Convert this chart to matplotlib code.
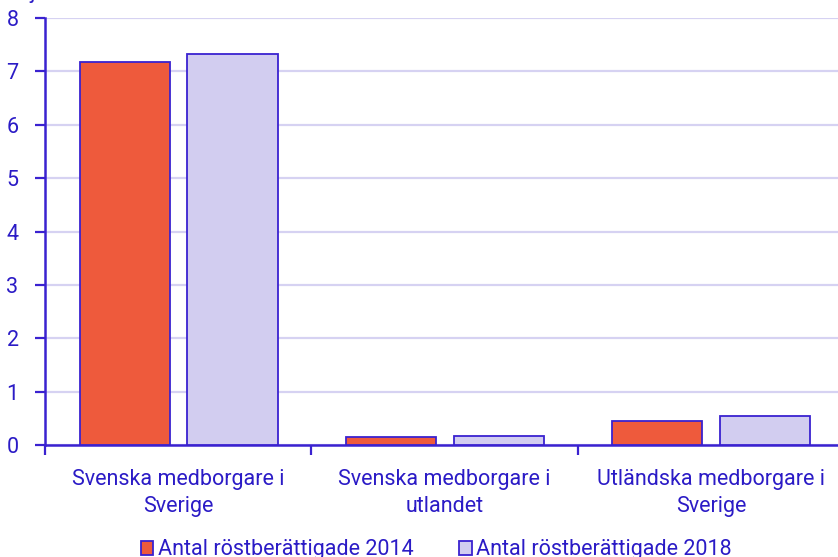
import numpy as np
import matplotlib.pyplot as plt
from matplotlib.patches import Patch

# antal röstberättigade, miljoner
categories = ["Svenska medborgare i\nSverige", "Svenska medborgare i\nutlandet", "Utländska medborgare i\nSverige"]
series_names = ["Antal röstberättigade 2014", "Antal röstberättigade 2018"]
values_2014 = [7.17, 0.15, 0.45]
values_2018 = [7.32, 0.17, 0.54]
y_ticks = [0, 1, 2, 3, 4, 5, 6, 7, 8]

TEXT = "#2b1bc6"
EDGE = "#3a22d0"
RED = "#ee5a3c"
LAV = "#d2cdf0"
GRID = "#d6d2f2"
FS = 15.5

plt.rcParams["font.family"] = ["Roboto", "DejaVu Sans"]

fig = plt.figure(figsize=(8.38, 5.57), dpi=100)
ax = fig.add_axes([45 / 838, 112 / 557, 799 / 838, 427 / 557])

x = np.arange(len(categories))
w = 0.338
ax.bar(x - 0.201, values_2014, w, color=RED, edgecolor=EDGE, linewidth=1.3, zorder=3)
ax.bar(x + 0.204, values_2018, w, color=LAV, edgecolor=EDGE, linewidth=1.3, zorder=3)

ax.set_xlim(-0.5, 2.5)
ax.set_ylim(0, 8)
ax.set_yticks(y_ticks)
ax.yaxis.grid(True, color=GRID, linewidth=1.6, zorder=0)
ax.set_axisbelow(True)

# category boundaries as major ticks, names as minor tick labels
ax.set_xticks([-0.5, 0.5, 1.5, 2.5])
ax.set_xticklabels([])
ax.set_xticks(x, minor=True)
ax.set_xticklabels(categories, minor=True, fontsize=FS, color=TEXT,
                   linespacing=1.42, multialignment="center")
ax.tick_params(axis="x", which="major", length=7, width=1.6, color=EDGE, direction="out")
ax.tick_params(axis="x", which="minor", length=0, pad=17)
ax.tick_params(axis="y", length=7, width=1.6, color=EDGE, labelsize=FS, labelcolor=TEXT, pad=12)

for s in ["top", "right"]:
    ax.spines[s].set_visible(False)
for s in ["left", "bottom"]:
    ax.spines[s].set_color(EDGE)
    ax.spines[s].set_linewidth(1.8)

# y-axis title sits just above the figure edge, only its descender shows
fig.text(40 / 838, 1 + 2 / 557, "Miljoner", ha="center", va="baseline", fontsize=FS, color=TEXT)

handles = [Patch(facecolor=RED, edgecolor=EDGE, linewidth=1.3),
           Patch(facecolor=LAV, edgecolor=EDGE, linewidth=1.3)]
fig.legend(handles, series_names, loc="center", bbox_to_anchor=(436 / 838, 7 / 557),
           ncol=2, frameon=False, fontsize=FS, labelcolor=TEXT,
           handlelength=0.6, handleheight=0.6, handletextpad=0.2, columnspacing=2.1,
           borderpad=0)

fig.savefig("out.png", dpi=100)
